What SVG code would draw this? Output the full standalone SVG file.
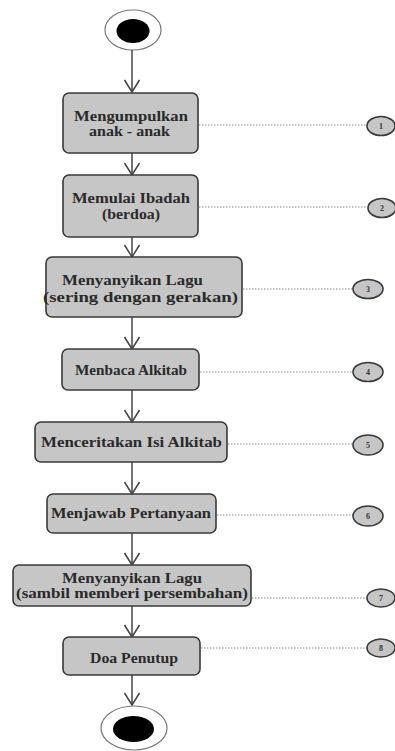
<svg xmlns="http://www.w3.org/2000/svg" width="395" height="751" viewBox="0 0 395 751">
<style>
.box{fill:#c6c6c6;stroke:#3a3a3a;stroke-width:1.6}
.t{font-family:"Liberation Serif","Times New Roman",serif;font-weight:bold;font-size:15px;fill:#2a2a2a}
.num{fill:#c6c6c6;stroke:#3a3a3a;stroke-width:1.6}
.n{font-family:"Liberation Serif",serif;font-weight:bold;font-size:8px;fill:#333;text-anchor:middle}
.flow{stroke:#444;stroke-width:1.5;fill:none}
.dot{stroke:#8a8a8a;stroke-width:1;stroke-dasharray:1.5 1.5;fill:none}
</style>
<defs>
<marker id="v" markerUnits="userSpaceOnUse" markerWidth="20" markerHeight="20" refX="0" refY="0" viewBox="-10 -14 20 16" orient="auto-start-reverse" overflow="visible">
<path d="M-7.5,-12 L0,0 L7.5,-12" transform="rotate(-90)" fill="none" stroke="#444" stroke-width="1.5"/>
</marker>
</defs>
<rect width="395" height="751" fill="#fff"/>
<g id="start">
<ellipse cx="133" cy="30" rx="28" ry="20" fill="#fff" stroke="#777" stroke-width="1.2"/>
<ellipse cx="133" cy="31" rx="16.5" ry="12" fill="#000"/>
</g>
<g id="connectors">
<line class="flow" x1="132" y1="50" x2="132" y2="92" marker-end="url(#v)"/>
<line class="flow" x1="132" y1="153" x2="132" y2="175" marker-end="url(#v)"/>
<line class="flow" x1="132" y1="237" x2="132" y2="257" marker-end="url(#v)"/>
<line class="flow" x1="132" y1="317" x2="132" y2="349" marker-end="url(#v)"/>
<line class="flow" x1="132" y1="390" x2="132" y2="422" marker-end="url(#v)"/>
<line class="flow" x1="132" y1="462" x2="132" y2="494" marker-end="url(#v)"/>
<line class="flow" x1="132" y1="533" x2="132" y2="565" marker-end="url(#v)"/>
<line class="flow" x1="132" y1="606" x2="132" y2="637" marker-end="url(#v)"/>
<line class="flow" x1="132" y1="675" x2="132" y2="705" marker-end="url(#v)"/>
<line class="dot" x1="199" y1="125" x2="367" y2="125"/>
<line class="dot" x1="199" y1="207" x2="367" y2="207"/>
<line class="dot" x1="243" y1="289" x2="353" y2="289"/>
<line class="dot" x1="200" y1="372" x2="353" y2="372"/>
<line class="dot" x1="228" y1="444" x2="353" y2="444"/>
<line class="dot" x1="217" y1="515" x2="353" y2="515"/>
<line class="dot" x1="252" y1="598" x2="367" y2="598"/>
<line class="dot" x1="201" y1="648" x2="367" y2="648"/>
</g>
<g id="node1">
<rect class="box" x="63" y="93" width="135" height="60" rx="6"/>
<text class="t" x="74" y="121" textLength="114" lengthAdjust="spacingAndGlyphs">Mengumpulkan</text>
<text class="t" x="89" y="136" textLength="81" lengthAdjust="spacingAndGlyphs">anak - anak</text>
</g>
<g id="node2">
<rect class="box" x="63" y="175" width="135" height="62" rx="6"/>
<text class="t" x="72" y="203" textLength="118" lengthAdjust="spacingAndGlyphs">Memulai Ibadah</text>
<text class="t" x="102" y="219" textLength="58" lengthAdjust="spacingAndGlyphs">(berdoa)</text>
</g>
<g id="node3">
<rect class="box" x="46" y="257" width="196" height="60" rx="6"/>
<text class="t" x="62" y="285" textLength="141" lengthAdjust="spacingAndGlyphs">Menyanyikan Lagu</text>
<text class="t" x="43" y="302" textLength="195" lengthAdjust="spacingAndGlyphs">(sering dengan gerakan)</text>
</g>
<g id="node4">
<rect class="box" x="62" y="349" width="137" height="41" rx="6"/>
<text class="t" x="75" y="375" textLength="112" lengthAdjust="spacingAndGlyphs">Menbaca Alkitab</text>
</g>
<g id="node5">
<rect class="box" x="35" y="422" width="192" height="40" rx="6"/>
<text class="t" x="41" y="447" textLength="181" lengthAdjust="spacingAndGlyphs">Menceritakan Isi Alkitab</text>
</g>
<g id="node6">
<rect class="box" x="47" y="494" width="169" height="39" rx="6"/>
<text class="t" x="51" y="518" textLength="160" lengthAdjust="spacingAndGlyphs">Menjawab Pertanyaan</text>
</g>
<g id="node7">
<rect class="box" x="13" y="565" width="238" height="41" rx="6"/>
<text class="t" x="62" y="583" textLength="140" lengthAdjust="spacingAndGlyphs">Menyanyikan Lagu</text>
<text class="t" x="16" y="598" textLength="232" lengthAdjust="spacingAndGlyphs">(sambil memberi persembahan)</text>
</g>
<g id="node8">
<rect class="box" x="63" y="637" width="137" height="38" rx="6"/>
<text class="t" x="90" y="663" textLength="88" lengthAdjust="spacingAndGlyphs">Doa Penutup</text>
</g>
<g id="end">
<ellipse cx="134" cy="728" rx="33" ry="22" fill="#fff" stroke="#777" stroke-width="1.2"/>
<ellipse cx="133.5" cy="729" rx="20.5" ry="13" fill="#000"/>
</g>
<g id="mark1"><ellipse class="num" cx="381" cy="126" rx="14" ry="9.5"/><text class="n" x="381" y="129">1</text></g>
<g id="mark2"><ellipse class="num" cx="382" cy="208" rx="14" ry="9.5"/><text class="n" x="382" y="211">2</text></g>
<g id="mark3"><ellipse class="num" cx="368" cy="289" rx="15" ry="9.5"/><text class="n" x="368" y="292">3</text></g>
<g id="mark4"><ellipse class="num" cx="368" cy="372" rx="15" ry="9.5"/><text class="n" x="368" y="375">4</text></g>
<g id="mark5"><ellipse class="num" cx="368" cy="445" rx="15" ry="10"/><text class="n" x="368" y="448">5</text></g>
<g id="mark6"><ellipse class="num" cx="368" cy="516" rx="15" ry="10"/><text class="n" x="368" y="519">6</text></g>
<g id="mark7"><ellipse class="num" cx="381" cy="598" rx="14" ry="9"/><text class="n" x="381" y="601">7</text></g>
<g id="mark8"><ellipse class="num" cx="381" cy="648" rx="14" ry="9"/><text class="n" x="381" y="651">8</text></g>
</svg>
